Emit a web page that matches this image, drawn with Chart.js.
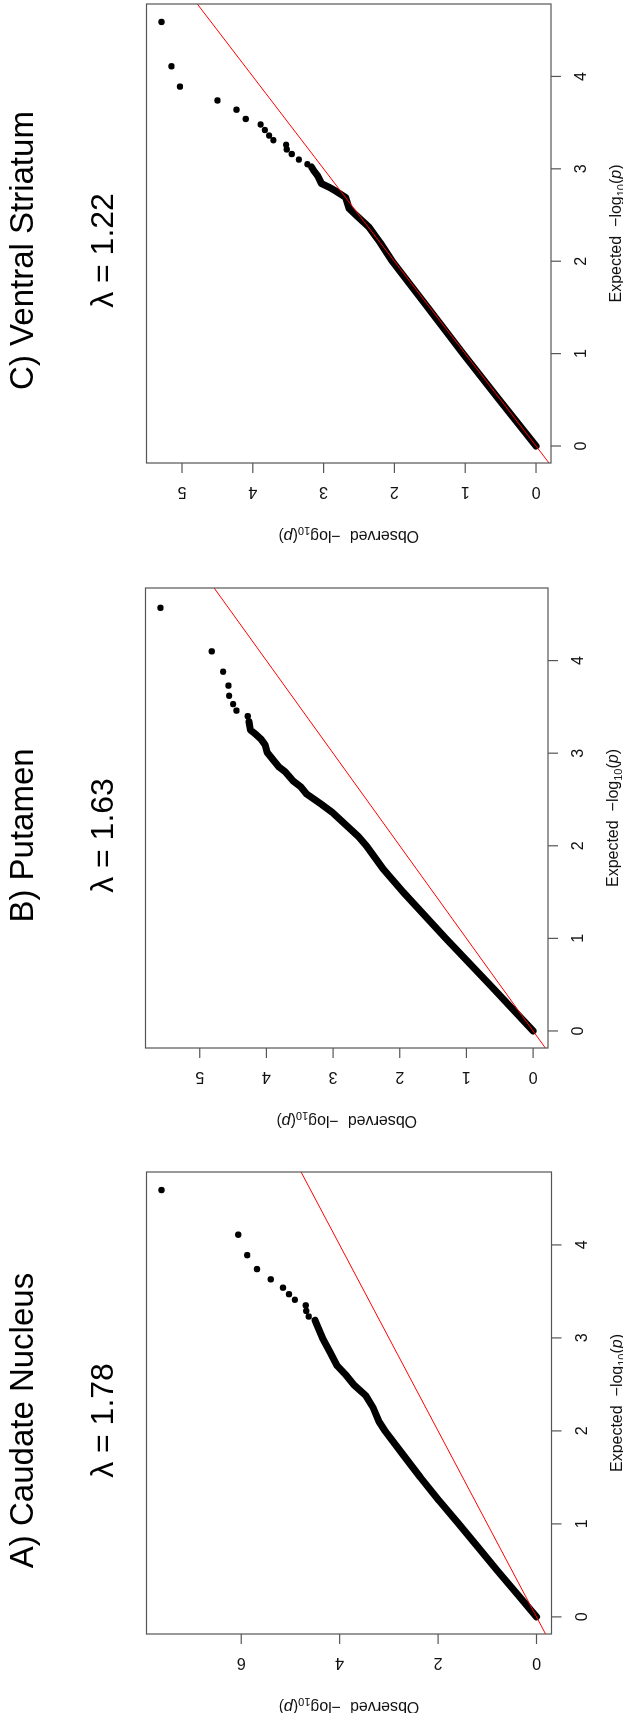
<!DOCTYPE html>
<html>
<head>
<meta charset="utf-8">
<script src="https://cdn.jsdelivr.net/npm/chart.js@4.4.1/dist/chart.umd.min.js"></script>
<style>
html, body { margin: 0; padding: 0; background: #fff; overflow: hidden; }
/* figure is laid out upright (1713 x 623) then turned a quarter turn to the left */
#fig { position: absolute; left: 0; top: 0; width: 1713px; height: 623px;
       transform-origin: 0 0; transform: translate(0, 1713px) rotate(-90deg); }
#fig canvas { position: absolute; top: 0; }
</style>
</head>
<body>
<div id="fig">
  <canvas id="qqA" width="585" height="623" style="left:0px"></canvas>
  <canvas id="qqB" width="585" height="623" style="left:585px"></canvas>
  <canvas id="qqC" width="543" height="623" style="left:1170px"></canvas>
</div>
<script>
// expected -log10(p) axis
var expTicks = [0, 1, 2, 3, 4];
var expMax = 4.6;

// A) Caudate Nucleus
var caudateTitle = 'A) Caudate Nucleus';
var caudateLambda = '1.78';
var caudateObsTicks = [0, 2, 4, 6];
var caudateBandExp = [0, 0.25, 0.5, 0.75, 1.0, 1.25, 1.5, 1.75, 2.0, 2.1, 2.25, 2.38, 2.5, 2.6, 2.7, 2.85, 3.0, 3.1, 3.19];
var caudateBandObs = [0, 0.40, 0.80, 1.19, 1.58, 1.98, 2.36, 2.72, 3.08, 3.2, 3.32, 3.47, 3.72, 3.87, 4.05, 4.2, 4.35, 4.43, 4.5];
var caudateTailExp = [3.23, 3.29, 3.35, 3.41, 3.47, 3.54, 3.63, 3.74, 3.89, 4.11, 4.59];
var caudateTailObs = [4.63, 4.68, 4.69, 4.91, 5.03, 5.15, 5.40, 5.68, 5.88, 6.06, 7.62];

// B) Putamen
var putamenTitle = 'B) Putamen';
var putamenLambda = '1.63';
var putamenObsTicks = [0, 1, 2, 3, 4, 5];
var putamenBandExp = [0, 0.5, 1.0, 1.5, 1.75, 2.0, 2.1, 2.26, 2.36, 2.44, 2.5, 2.56, 2.64, 2.7, 2.8, 2.85, 2.93, 3.01, 3.09, 3.15, 3.21, 3.25, 3.34];
var putamenBandObs = [0, 0.65, 1.31, 1.95, 2.25, 2.5, 2.62, 2.86, 3.01, 3.16, 3.28, 3.40, 3.49, 3.60, 3.72, 3.81, 3.90, 3.99, 4.02, 4.08, 4.17, 4.24, 4.26];
var putamenTailExp = [3.40, 3.46, 3.53, 3.62, 3.73, 3.88, 4.10, 4.57];
var putamenTailObs = [4.28, 4.45, 4.50, 4.56, 4.57, 4.65, 4.82, 5.59];

// C) Ventral Striatum
var striatumTitle = 'C) Ventral Striatum';
var striatumLambda = '1.22';
var striatumObsTicks = [0, 1, 2, 3, 4, 5];
var striatumBandExp = [0, 0.5, 1.0, 1.5, 2.0, 2.2, 2.37, 2.49, 2.57, 2.69, 2.72, 2.76, 2.80, 2.84, 2.92, 2.98, 3.02];
var striatumBandObs = [0, 0.52, 1.03, 1.53, 2.03, 2.2, 2.36, 2.53, 2.64, 2.69, 2.75, 2.83, 2.92, 3.03, 3.08, 3.14, 3.17];
var striatumTailExp = [3.05, 3.10, 3.16, 3.21, 3.26, 3.31, 3.36, 3.42, 3.48, 3.54, 3.64, 3.74, 3.89, 4.11, 4.59];
var striatumTailObs = [3.23, 3.35, 3.45, 3.52, 3.53, 3.71, 3.77, 3.83, 3.89, 4.10, 4.23, 4.50, 5.03, 5.15, 5.29];

var FONT = '"Liberation Sans", Arial, Helvetica, sans-serif';

function pts(xs, ys) {
  var out = [];
  for (var i = 0; i < xs.length; i++) out.push({x: xs[i], y: ys[i]});
  return out;
}

// draws "<lead> -log10(p)" centred on 0,0 (current transform)
function drawLogLabel(ctx, lead) {
  var parts = [
    {t: lead + '  \u2212log', f: '16px ' + FONT, dy: 0},
    {t: '10', f: '11px ' + FONT, dy: 4},
    {t: '(', f: '16px ' + FONT, dy: 0},
    {t: 'p', f: 'italic 16px ' + FONT, dy: 0},
    {t: ')', f: '16px ' + FONT, dy: 0}
  ];
  var w = 0;
  parts.forEach(function(p) { ctx.font = p.f; p.w = ctx.measureText(p.t).width; w += p.w; });
  var x = -w / 2;
  ctx.textAlign = 'left';
  parts.forEach(function(p) { ctx.font = p.f; ctx.fillText(p.t, x, p.dy); x += p.w; });
}

var rAxes = {
  id: 'rAxes',
  afterDraw: function(chart, args, o) {
    var ctx = chart.ctx, a = chart.chartArea, xs = chart.scales.x, ys = chart.scales.y;
    ctx.save();
    ctx.strokeStyle = '#555';
    ctx.lineWidth = 1.2;
    ctx.strokeRect(a.left, a.top, a.right - a.left, a.bottom - a.top);
    ctx.fillStyle = '#111';
    ctx.textBaseline = 'alphabetic';
    ctx.font = '16px ' + FONT;
    ctx.textAlign = 'center';
    expTicks.forEach(function(v) {
      var px = xs.getPixelForValue(v);
      ctx.beginPath(); ctx.moveTo(px, a.bottom); ctx.lineTo(px, a.bottom + 10); ctx.stroke();
      ctx.fillText(String(v), px, a.bottom + 35);
    });
    o.obsTicks.forEach(function(v) {
      var py = ys.getPixelForValue(v);
      ctx.beginPath(); ctx.moveTo(a.left - 10, py); ctx.lineTo(a.left, py); ctx.stroke();
      ctx.save();
      ctx.translate(a.left - 24, py);
      ctx.rotate(-Math.PI / 2);
      ctx.textAlign = 'center';
      ctx.fillText(String(v), 0, 0);
      ctx.restore();
    });
    // axis titles
    ctx.save();
    ctx.translate((a.left + a.right) / 2, a.bottom + 70);
    drawLogLabel(ctx, 'Expected');
    ctx.restore();
    ctx.save();
    ctx.translate(a.left - 68, (a.top + a.bottom) / 2);
    ctx.rotate(-Math.PI / 2);
    drawLogLabel(ctx, 'Observed');
    ctx.restore();
    // panel title, centred on the figure region
    ctx.fillStyle = '#000';
    ctx.textAlign = 'center';
    ctx.font = '33px ' + FONT;
    ctx.fillText(o.title, 292.5, 33);
    ctx.font = '32px ' + FONT;
    ctx.fillText('\u03bb = ' + o.lambda, 292.5, 113);
    ctx.restore();
  }
};

function makePanel(id, p) {
  var obsMax = Math.max.apply(null, p.tailObs);
  new Chart(document.getElementById(id), {
    type: 'scatter',
    data: {
      datasets: [
        {
          // y = x reference line
          data: [{x: -1, y: -1}, {x: 10, y: 10}],
          showLine: true, borderColor: '#ff0000', borderWidth: 1,
          pointRadius: 0, order: 0
        },
        {
          data: pts(p.tailExp, p.tailObs),
          backgroundColor: '#000', borderWidth: 0, pointRadius: 3.2,
          showLine: false, order: 1
        },
        {
          // dense part of the point cloud
          data: pts(p.bandExp, p.bandObs),
          showLine: true, borderColor: '#000', borderWidth: 7,
          borderCapStyle: 'round', borderJoinStyle: 'round',
          pointRadius: 0, tension: 0, order: 2
        }
      ]
    },
    options: {
      responsive: false,
      animation: false,
      events: [],
      layout: { padding: p.pad },
      scales: {
        x: { type: 'linear', display: false, min: -0.04 * expMax, max: 1.04 * expMax },
        y: { type: 'linear', display: false, min: -0.04 * obsMax, max: 1.04 * obsMax }
      },
      plugins: {
        legend: { display: false },
        tooltip: { enabled: false },
        rAxes: { obsTicks: p.obsTicks, title: p.title, lambda: p.lambda }
      }
    },
    plugins: [rAxes]
  });
}

makePanel('qqA', {
  title: caudateTitle, lambda: caudateLambda, obsTicks: caudateObsTicks,
  bandExp: caudateBandExp, bandObs: caudateBandObs, tailExp: caudateTailExp, tailObs: caudateTailObs,
  pad: {left: 79, right: 44, top: 146.5, bottom: 71.5}
});
makePanel('qqB', {
  title: putamenTitle, lambda: putamenLambda, obsTicks: putamenObsTicks,
  bandExp: putamenBandExp, bandObs: putamenBandObs, tailExp: putamenTailExp, tailObs: putamenTailObs,
  pad: {left: 80, right: 45, top: 145.5, bottom: 75}
});
makePanel('qqC', {
  title: striatumTitle, lambda: striatumLambda, obsTicks: striatumObsTicks,
  bandExp: striatumBandExp, bandObs: striatumBandObs, tailExp: striatumTailExp, tailObs: striatumTailObs,
  pad: {left: 80, right: 2, top: 146.5, bottom: 72}
});
</script>
</body>
</html>
